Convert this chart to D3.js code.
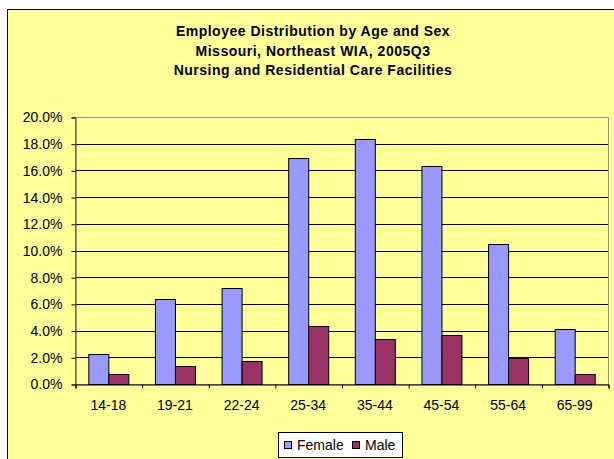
<!DOCTYPE html>
<html>
<head>
<meta charset="utf-8">
<script src="https://cdn.jsdelivr.net/npm/d3@7"></script>
<style>
  body { margin: 0; background: #fff; }
  text { font-family: "Liberation Sans", Arial, sans-serif; }
</style>
</head>
<body>
<div id="viz"></div>
<script>
// data
let ages = ['14-18', '19-21', '22-24', '25-34', '35-44', '45-54', '55-64', '65-99'];
let female = [2.22, 6.39, 7.17, 16.93, 18.37, 16.33, 10.51, 4.10];
let male = [0.75, 1.37, 1.70, 4.34, 3.35, 3.67, 1.97, 0.75];
let series = ['Female', 'Male'];
let yTicks = [0, 2, 4, 6, 8, 10, 12, 14, 16, 18, 20];
let titleLines = ['Employee Distribution by Age and Sex',
                  'Missouri, Northeast WIA, 2005Q3',
                  'Nursing and Residential Care Facilities'];

let W = 614, H = 459,
    plot = { left: 75, top: 117, right: 608, bottom: 384 },
    colors = { Female: '#9999FF', Male: '#993366' };

let svg = d3.select('#viz').append('svg')
  .attr('width', W)
  .attr('height', H);

// chart area
svg.append('rect')
  .attr('x', 7.5).attr('y', 9.5)
  .attr('width', W + 10).attr('height', H + 10)
  .attr('fill', '#FFFF99')
  .attr('stroke', '#000')
  .attr('stroke-width', 1);

// title
svg.append('g').selectAll('text').data(titleLines)
  .enter().append('text')
  .attr('x', 313)
  .attr('y', function(d, i) { return 36 + i * 19.5; })
  .attr('text-anchor', 'middle')
  .attr('font-size', 14)
  .attr('font-weight', 'bold')
  .attr('letter-spacing', 0.5)
  .attr('fill', '#000')
  .text(function(d) { return d; });

let yScale = d3.scaleLinear()
  .domain([0, 20])
  .range([plot.bottom, plot.top]);

let xScale = d3.scaleBand()
  .domain(ages)
  .range([plot.left, plot.right])
  .paddingInner(0.4)
  .paddingOuter(0.2);

let xSub = d3.scaleBand()
  .domain(series)
  .range([0, xScale.bandwidth()]);

// gridlines
svg.append('g').selectAll('line').data(yTicks.slice(1))
  .enter().append('line')
  .attr('x1', plot.left).attr('x2', plot.right)
  .attr('y1', function(d) { return Math.round(yScale(d)) + 0.5; })
  .attr('y2', function(d) { return Math.round(yScale(d)) + 0.5; })
  .attr('stroke', '#000')
  .attr('stroke-width', 1);

// plot border
svg.append('rect')
  .attr('x', plot.left + 0.5).attr('y', plot.top + 0.5)
  .attr('width', plot.right - plot.left).attr('height', plot.bottom - plot.top)
  .attr('fill', 'none')
  .attr('stroke', '#909090');

// bars
let groups = svg.append('g').selectAll('g').data(ages)
  .enter().append('g')
  .attr('transform', function(d) { return 'translate(' + xScale(d) + ',0)'; });

groups.selectAll('rect')
  .data(function(d, i) {
    return [{ s: 'Female', v: female[i] }, { s: 'Male', v: male[i] }];
  })
  .enter().append('rect')
  .attr('x', function(d) { return Math.round(xSub(d.s)) + 0.5; })
  .attr('y', function(d) { return Math.round(yScale(d.v)) + 0.5; })
  .attr('width', function(d) { return Math.round(xSub.bandwidth()); })
  .attr('height', function(d) { return Math.round(yScale(0)) - Math.round(yScale(d.v)); })
  .attr('fill', function(d) { return colors[d.s]; })
  .attr('stroke', '#000')
  .attr('stroke-width', 1);

// y axis
let yAxis = d3.axisLeft(yScale)
  .tickValues(yTicks)
  .tickSize(4)
  .tickPadding(9)
  .tickFormat(function(d) { return d.toFixed(1) + '%'; });

let yGuide = svg.append('g')
  .attr('transform', 'translate(' + (plot.left + 0.5) + ',0.5)')
  .call(yAxis);
yGuide.select('.domain').attr('stroke', '#404040');
yGuide.selectAll('line').attr('stroke', '#000');
yGuide.selectAll('text')
  .attr('font-size', 14)
  .attr('fill', '#000')
  .style('font-family', '"Liberation Sans", Arial, sans-serif');

// x axis with ticks between categories
let xAxisValues = d3.scaleLinear().domain([0, ages.length]).range([plot.left, plot.right]);
let xAxis = d3.axisBottom(xAxisValues)
  .tickValues(d3.range(0, ages.length + 1))
  .tickSize(4)
  .tickFormat('');

let xGuide = svg.append('g')
  .attr('transform', 'translate(0.5,' + (plot.bottom + 0.5) + ')')
  .call(xAxis);
xGuide.select('.domain').attr('stroke', '#000');
xGuide.selectAll('line').attr('stroke', '#000');

svg.append('g').selectAll('text').data(ages)
  .enter().append('text')
  .attr('x', function(d) { return xScale(d) + xScale.bandwidth() / 2; })
  .attr('y', 410)
  .attr('text-anchor', 'middle')
  .attr('font-size', 14)
  .attr('fill', '#000')
  .text(function(d) { return d; });

// legend
let legend = svg.append('g');
legend.append('rect')
  .attr('x', 278.5).attr('y', 432.5)
  .attr('width', 124).attr('height', 25)
  .attr('fill', '#fff')
  .attr('stroke', '#000');

let legendX = [284, 352];
let items = legend.selectAll('g.item').data(series)
  .enter().append('g')
  .attr('class', 'item')
  .attr('transform', function(d, i) { return 'translate(' + legendX[i] + ',0)'; });
items.append('rect')
  .attr('x', 0.5).attr('y', 441.5)
  .attr('width', 7).attr('height', 7)
  .attr('fill', function(d) { return colors[d]; })
  .attr('stroke', '#000');
items.append('text')
  .attr('x', 13).attr('y', 450)
  .attr('font-size', 14)
  .attr('fill', '#000')
  .text(function(d) { return d; });
</script>
</body>
</html>
